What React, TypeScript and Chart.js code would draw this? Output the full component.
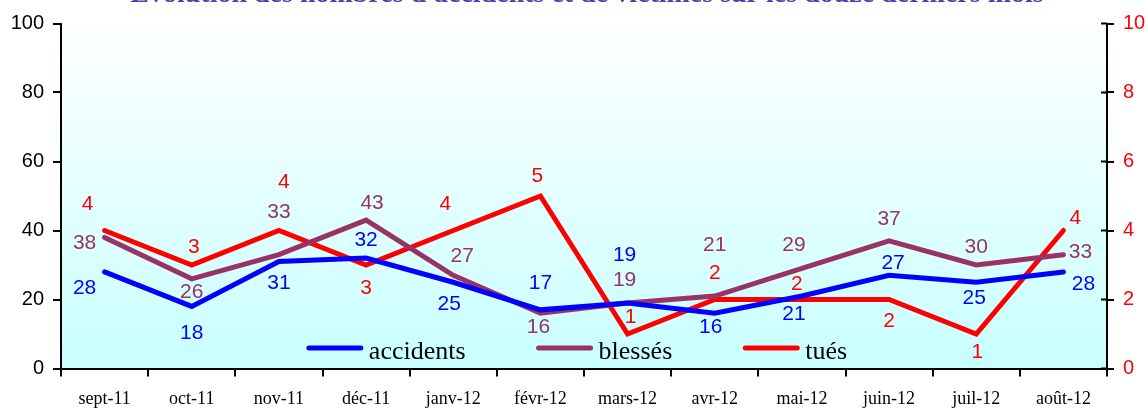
import React, { useEffect, useRef } from "react";
import { Chart, registerables } from "chart.js";

Chart.register(...registerables);

const titleText = "Évolution des nombres d'accidents et de victimes sur les douze derniers mois";
const categories = ["sept-11", "oct-11", "nov-11", "déc-11", "janv-12", "févr-12", "mars-12", "avr-12", "mai-12", "juin-12", "juil-12", "août-12"];
const accidents = [28, 18, 31, 32, 25, 17, 19, 16, 21, 27, 25, 28];
const blesses = [38, 26, 33, 43, 27, 16, 19, 21, 29, 37, 30, 33];
const tues = [4, 3, 4, 3, 4, 5, 1, 2, 2, 2, 1, 4];

// label placement offsets [dx, dy] relative to each point
const accidentsLabelOffsets = [[-20, 16], [0, 27], [0, 22], [0, -18], [-4, 22], [0, -27], [-3, -48], [-4, 14], [-8, 18], [4, -12], [-2, 16], [20, 12]];
const blessesLabelOffsets = [[-20, 6], [0, 13], [0, -42], [6, -17], [9, -19], [-2, 14], [-3, -23], [0, -51], [-8, -23], [0, -22], [0, -18], [17, -2]];
const tuesLabelOffsets = [[-17, -26], [2, -18], [5, -48], [0, 23], [-8, -26], [-3, -20], [3, -17], [0, -26], [-5, -15], [0, 22], [1, 18], [12, -12]];

const BLUE = "#0000ff";
const PURPLE = "#993366";
const RED = "#ff0000";
const SANS = "'Liberation Sans', Arial, sans-serif";
const SERIF = "'Liberation Serif', 'Times New Roman', serif";

const decorPlugin = {
  id: "decor",
  beforeDraw(chart: any) {
    const { ctx, chartArea } = chart;
    const g = ctx.createLinearGradient(0, chartArea.top, 0, chartArea.bottom);
    g.addColorStop(0, "#ffffff");
    g.addColorStop(1, "#c8ffff");
    ctx.save();
    ctx.fillStyle = g;
    ctx.fillRect(chartArea.left, chartArea.top, chartArea.right - chartArea.left, chartArea.bottom - chartArea.top);
    ctx.restore();
  },
  afterDraw(chart: any) {
    const { ctx, chartArea, scales } = chart;
    ctx.save();
    ctx.strokeStyle = "#000";
    ctx.lineWidth = 2;
    ctx.beginPath();
    ctx.moveTo(chartArea.left, chartArea.bottom);
    ctx.lineTo(chartArea.left, chartArea.bottom + 7);
    ctx.moveTo(chartArea.right, chartArea.bottom);
    ctx.lineTo(chartArea.right, chartArea.bottom + 7);
    const y1 = scales.y1;
    y1.ticks.forEach((t: any) => {
      const py = y1.getPixelForValue(t.value);
      ctx.moveTo(chartArea.right - 6, py);
      ctx.lineTo(chartArea.right, py);
    });
    ctx.stroke();

    // title (cut off at the top of the picture)
    ctx.fillStyle = "#4444aa";
    ctx.font = "bold 28px " + SERIF;
    ctx.textAlign = "center";
    ctx.textBaseline = "alphabetic";
    ctx.fillText(titleText, 587, 2);
    ctx.restore();
  },
  afterDatasetsDraw(chart: any) {
    const { ctx } = chart;
    const offsets = [accidentsLabelOffsets, blessesLabelOffsets, tuesLabelOffsets];
    ctx.save();
    ctx.font = "21px " + SANS;
    ctx.textAlign = "center";
    ctx.textBaseline = "middle";
    chart.data.datasets.forEach((ds: any, di: number) => {
      const meta = chart.getDatasetMeta(di);
      ctx.fillStyle = ds.borderColor;
      meta.data.forEach((pt: any, i: number) => {
        const [dx, dy] = offsets[di][i];
        ctx.fillText(String(ds.data[i]), pt.x + dx, pt.y + dy);
      });
    });

    // legend
    ctx.font = "26px " + SERIF;
    ctx.textBaseline = "alphabetic";
    ctx.textAlign = "left";
    const lineLen = 56;
    const gap = 6;
    const itemGap = 71;
    const items = chart.data.datasets.map((ds: any) => ({ label: ds.label, color: ds.borderColor, w: ctx.measureText(ds.label).width }));
    const total = items.reduce((s: number, it: any) => s + lineLen + gap + it.w, 0) + itemGap * (items.length - 1);
    let x = 577 - total / 2;
    const ly = 348;
    items.forEach((it: any) => {
      ctx.strokeStyle = it.color;
      ctx.lineWidth = 5;
      ctx.lineCap = "round";
      ctx.beginPath();
      ctx.moveTo(x + 2, ly);
      ctx.lineTo(x + lineLen - 2, ly);
      ctx.stroke();
      ctx.fillStyle = "#000";
      ctx.fillText(it.label, x + lineLen + gap, ly + 11);
      x += lineLen + gap + it.w + itemGap;
    });
    ctx.restore();
  },
};

export default function App() {
  const ref = useRef<HTMLCanvasElement>(null);
  useEffect(() => {
    if (!ref.current) return;
    const mk = (label: string, data: number[], color: string, axis: string) => ({
      label,
      data,
      borderColor: color,
      backgroundColor: color,
      borderWidth: 5,
      pointRadius: 0,
      tension: 0,
      fill: false,
      yAxisID: axis,
      borderCapStyle: "round" as const,
      borderJoinStyle: "miter" as const,
    });
    const chart = new Chart(ref.current, {
      type: "line",
      data: {
        labels: categories,
        datasets: [
          mk("accidents", accidents, BLUE, "y"),
          mk("blessés", blesses, PURPLE, "y"),
          mk("tués", tues, RED, "y1"),
        ],
      },
      options: {
        animation: false,
        responsive: false,
        layout: { padding: { top: 23.5, left: 0, right: 0, bottom: 0 } },
        plugins: { legend: { display: false }, title: { display: false }, tooltip: { enabled: false } },
        scales: {
          x: {
            type: "category",
            offset: true,
            grid: { offset: true, drawOnChartArea: false, drawTicks: true, tickLength: 8, color: "#000", lineWidth: 2 },
            border: { display: true, color: "#000", width: 2 },
            ticks: { color: "#000", font: { family: SERIF, size: 18 }, padding: 12, maxRotation: 0, autoSkip: false },
            afterFit: (s: any) => { s.height = 41.5; },
          },
          y: {
            position: "left",
            min: 0,
            max: 100,
            ticks: { stepSize: 20, color: "#000", font: { family: SANS, size: 20 }, padding: 9 },
            grid: { drawOnChartArea: false, drawTicks: true, tickLength: 8, color: "#000", lineWidth: 2 },
            border: { display: true, color: "#000", width: 2 },
            afterFit: (s: any) => { s.width = 61; },
          },
          y1: {
            position: "right",
            min: 0,
            max: 10,
            ticks: { stepSize: 2, color: RED, font: { family: SANS, size: 20 }, padding: 9 },
            grid: { drawOnChartArea: false, drawTicks: true, tickLength: 7, color: "#000", lineWidth: 2 },
            border: { display: true, color: "#000", width: 2 },
            afterFit: (s: any) => { s.width = 41; },
          },
        },
      },
      plugins: [decorPlugin],
    });
    return () => chart.destroy();
  }, []);
  return (
    <div style={{ position: "fixed", left: 0, top: 0, width: 1148, height: 410, background: "#fff" }}>
      <canvas ref={ref} width={1148} height={410} style={{ display: "block", width: 1148, height: 410 }} />
    </div>
  );
}
